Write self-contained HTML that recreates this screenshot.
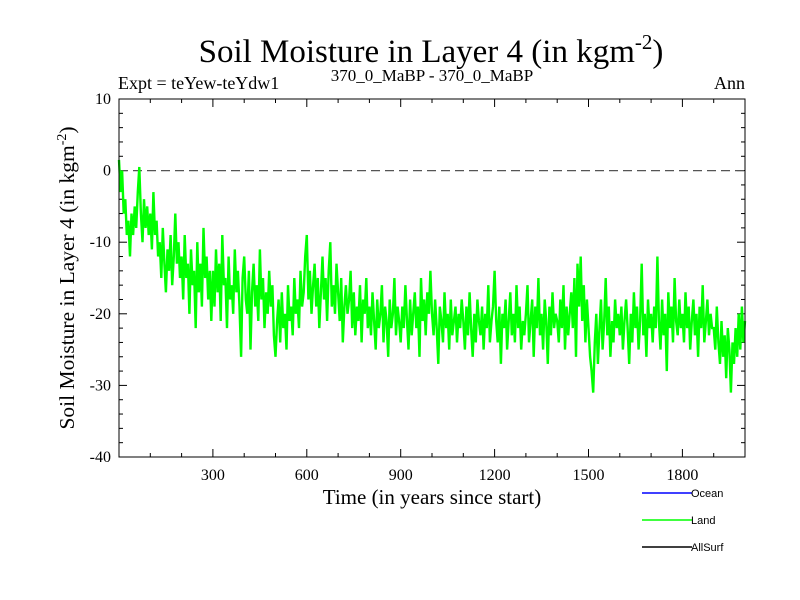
<!DOCTYPE html>
<html><head><meta charset="utf-8"><style>
html,body{margin:0;padding:0;background:#fff;width:800px;height:600px;overflow:hidden}
svg{display:block}
.serif{font-family:"Liberation Serif",serif}
.sans{font-family:"Liberation Sans",sans-serif}
</style></head><body>
<svg id="chart" width="800" height="600" viewBox="0 0 800 600">
<text class="serif" x="431" y="62" font-size="33" text-anchor="middle">Soil Moisture in Layer 4 (in kgm<tspan font-size="21" dy="-13">-2</tspan><tspan dy="13">)</tspan></text>
<text class="serif" x="118" y="89" font-size="18">Expt = teYew-teYdw1</text>
<text class="serif" x="432" y="81" font-size="17" text-anchor="middle">370_0_MaBP - 370_0_MaBP</text>
<text class="serif" x="745" y="89" font-size="18" text-anchor="end">Ann</text>
<text class="serif" x="432" y="504" font-size="21" text-anchor="middle">Time (in years since start)</text>
<text class="serif" transform="translate(74,278) rotate(-90)" font-size="21.5" text-anchor="middle">Soil Moisture in Layer 4 (in kgm<tspan font-size="14" dy="-8">-2</tspan><tspan dy="8">)</tspan></text>
<g id="axes"></g>
<g id="series"></g>
<rect x="119" y="99" width="626" height="358" fill="none" stroke="#000" stroke-width="1"/>
<g>
<line x1="642" y1="493" x2="692" y2="493" stroke="#0000ff" stroke-width="1.5"/>
<text class="sans" x="691" y="497" font-size="11">Ocean</text>
<line x1="642" y1="520" x2="692" y2="520" stroke="#00ff00" stroke-width="1.5"/>
<text class="sans" x="691" y="524" font-size="11">Land</text>
<line x1="642" y1="547" x2="692" y2="547" stroke="#000" stroke-width="1.5"/>
<text class="sans" x="691" y="551" font-size="11">AllSurf</text>
</g>
</svg>
<script>
const yearStep = 5;
const landValues = [
1.5,-3,0,-6,-4,-9,-7,-12,-6,-9,-5,-8,-3,0.5,-6,-10,-4,-8,-5,-9,
-6,-11,-3,-9,-7,-12,-10,-15,-8,-13,-17,-11,-14,-9,-16,-12,-6,-13,-10,-15,
-12,-18,-9,-15,-13,-20,-11,-16,-14,-22,-10,-17,-13,-19,-8,-15,-12,-18,-14,-21,
-14,-19,-11,-17,-13,-21,-9,-16,-15,-22,-12,-18,-16,-20,-11,-17,-14,-19,-26,-15,
-12,-18,-20,-14,-25,-17,-13,-19,-16,-21,-11,-18,-15,-22,-17,-20,-14,-19,-16,-23,
-26,-21,-18,-24,-17,-22,-20,-25,-16,-21,-19,-23,-15,-20,-18,-22,-14,-19,-17,-12,
-9,-18,-14,-20,-16,-13,-19,-15,-22,-17,-12,-18,-15,-21,-14,-10,-19,-16,-20,-13,
-17,-21,-15,-24,-19,-16,-20,-18,-14,-22,-17,-23,-19,-21,-16,-24,-18,-20,-15,-22,
-19,-23,-17,-21,-25,-18,-22,-20,-16,-24,-19,-21,-26,-18,-22,-20,-15,-23,-19,-21,
-24,-19,-22,-16,-21,-25,-18,-23,-20,-17,-22,-19,-26,-15,-21,-18,-23,-17,-20,-14,
-20,-23,-18,-22,-27,-19,-21,-24,-17,-22,-20,-25,-18,-23,-21,-19,-24,-20,-22,-18,
-21,-25,-19,-23,-17,-22,-26,-20,-24,-18,-21,-23,-19,-25,-20,-22,-16,-24,-21,-19,
-14,-21,-24,-19,-27,-20,-22,-18,-25,-21,-17,-23,-20,-24,-16,-22,-19,-25,-21,-23,
-20,-16,-24,-21,-18,-26,-19,-22,-15,-23,-20,-25,-18,-21,-27,-19,-23,-17,-22,-20,
-21,-24,-18,-22,-16,-25,-19,-23,-20,-17,-22,-15,-26,-13,-19,-12,-21,-16,-24,-18,
-22,-26,-28,-31,-24,-20,-27,-22,-18,-25,-21,-15,-23,-19,-26,-21,-24,-18,-22,-20,
-23,-19,-25,-21,-18,-22,-27,-20,-24,-17,-22,-19,-25,-21,-13,-23,-20,-26,-18,-22,
-20,-24,-19,-22,-12,-21,-25,-18,-23,-20,-28,-17,-22,-19,-24,-15,-21,-23,-18,-22,
-20,-24,-17,-22,-19,-25,-21,-18,-23,-20,-26,-19,-22,-16,-24,-21,-18,-23,-20,-22,
-22,-25,-19,-24,-27,-21,-26,-23,-29,-22,-25,-31,-24,-27,-22,-26,-20,-25,-19,-24,
-21];
const xTickLabels = [300,600,900,1200,1500,1800];
const yTickLabels = [10,0,-10,-20,-30,-40];

const NS = "http://www.w3.org/2000/svg";
const X0=119,X1=745,Y0=99,Y1=457,XMIN=0,XMAX=2000,YMIN=-40,YMAX=10;
function sx(v){return X0+(v-XMIN)/(XMAX-XMIN)*(X1-X0);}
function sy(v){return Y1-(v-YMIN)/(YMAX-YMIN)*(Y1-Y0);}
function mk(tag,attrs,parent){const e=document.createElementNS(NS,tag);for(const k in attrs)e.setAttribute(k,attrs[k]);parent.appendChild(e);return e;}
const axes=document.getElementById('axes');
for(let v=100;v<XMAX;v+=100){
  const len=(v%300===0)?8:4;
  const t1=mk('line',{x1:sx(v),x2:sx(v),y1:Y1,y2:Y1-len,stroke:'#000','stroke-width':1},axes);
  
  
  const t2=mk('line',{x1:sx(v),x2:sx(v),y1:Y0,y2:Y0+len,stroke:'#000','stroke-width':1},axes);
  
  
}
xTickLabels.forEach(v=>{
  const t=mk('text',{x:sx(v),y:Y1+23,'font-size':16,'text-anchor':'middle','class':'serif'},axes);
  t.textContent=v;
  
  
});
for(let v=YMIN+2;v<YMAX;v+=2){
  const len=(v%10===0)?8:4;
  const t1=mk('line',{x1:X0,x2:X0+len,y1:sy(v),y2:sy(v),stroke:'#000','stroke-width':1},axes);
  
  
  const t2=mk('line',{x1:X1,x2:X1-len,y1:sy(v),y2:sy(v),stroke:'#000','stroke-width':1},axes);
  
  
}
yTickLabels.forEach(v=>{
  const t=mk('text',{x:X0-8,y:sy(v)+5,'font-size':16,'text-anchor':'end','class':'serif'},axes);
  t.textContent=v;
  
  
});
const zl=mk('line',{x1:X0,x2:X1,y1:sy(0),y2:sy(0),stroke:'#555','stroke-width':1.2,'stroke-dasharray':'9,5'},axes);


const series=document.getElementById('series');
const pts=landValues.map((v,i)=>sx(i*yearStep).toFixed(1)+','+sy(v).toFixed(1)).join(' ');
const pl=mk('polyline',{points:pts,fill:'none',stroke:'#00ff00','stroke-width':2.4,'stroke-linejoin':'miter'},series);


</script>
</body></html>
